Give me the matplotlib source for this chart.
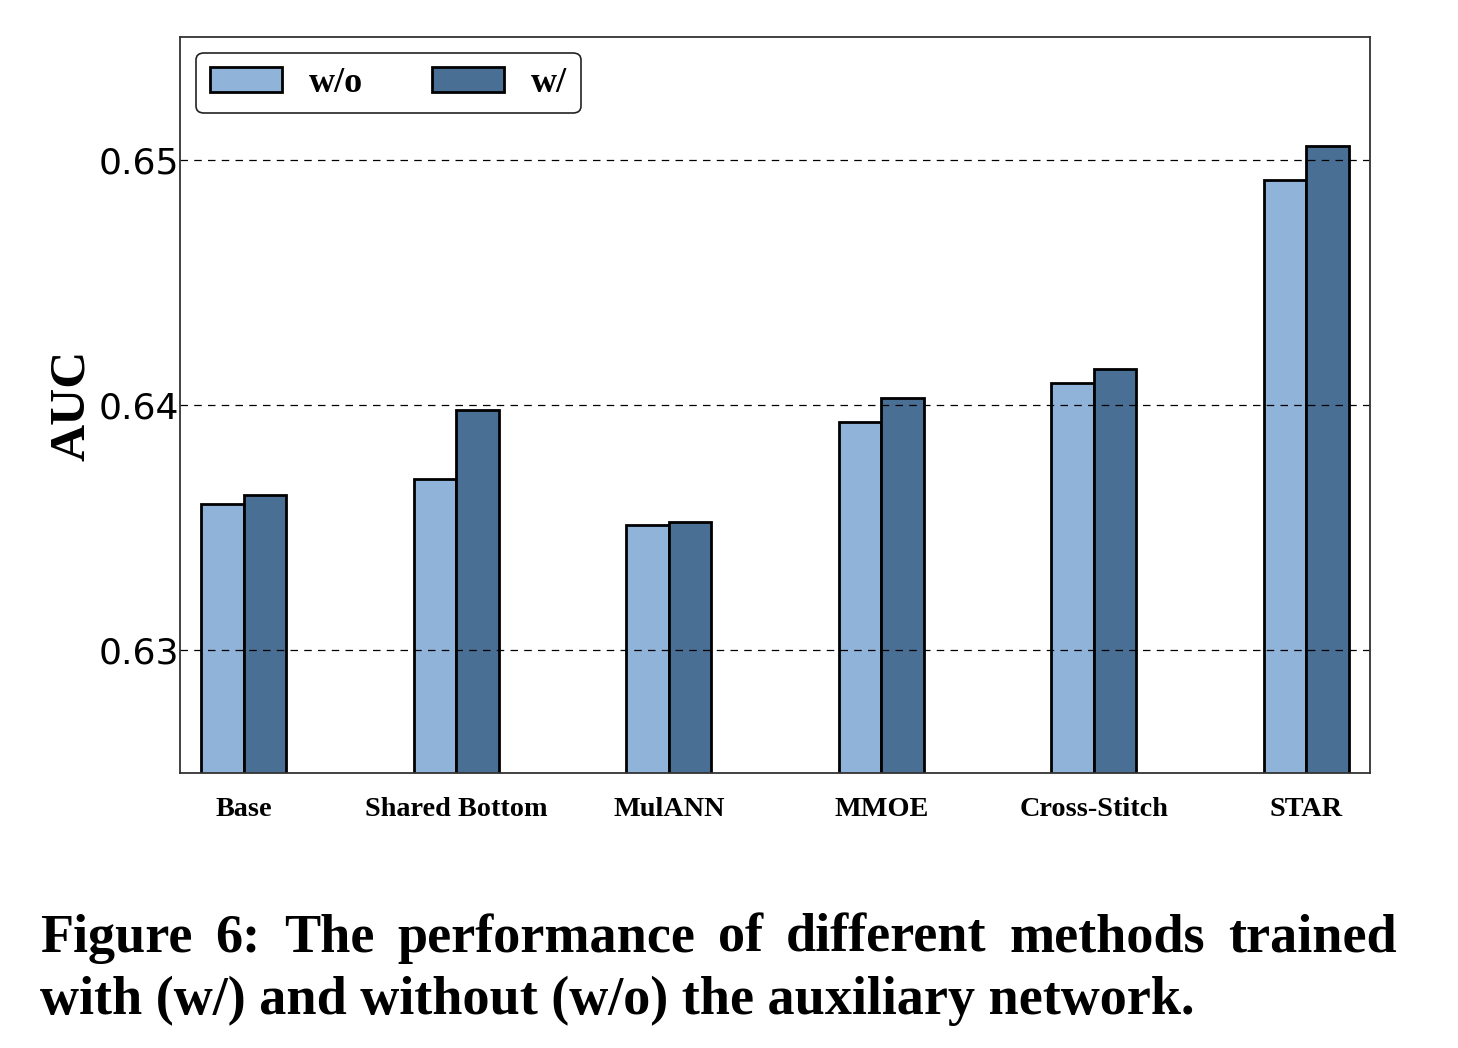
import matplotlib
matplotlib.use("Agg")
import matplotlib.pyplot as plt
import numpy as np

categories = ["Base", "Shared Bottom", "MulANN", "MMOE", "Cross-Stitch", "STAR"]
wo_values = [0.63595, 0.63697, 0.63509, 0.63929, 0.64088, 0.64919]
w_values = [0.63635, 0.63978, 0.63525, 0.64027, 0.64145, 0.65057]
series_labels = ["w/o", "w/"]
yticks = [0.63, 0.64, 0.65]
ytick_labels = ["0.63", "0.64", "0.65"]
caption_lines = [
    "Figure 6: The performance of different methods trained",
    "with (w/) and without (w/o) the auxiliary network.",
]

light = "#8fb3d9"
dark = "#4a6f95"

fig = plt.figure(figsize=(14.58, 10.48), dpi=100)
ax = fig.add_axes([0.1235, 0.2624, 0.8161, 0.7023])

x = np.arange(len(categories))
bw = 0.2
ax.bar(x - bw / 2, wo_values, bw, color=light, edgecolor="black", linewidth=2, label=series_labels[0], zorder=2)
ax.bar(x + bw / 2, w_values, bw, color=dark, edgecolor="black", linewidth=2, label=series_labels[1], zorder=2)

ax.set_xlim(-0.3, len(categories) - 0.7)
ax.set_ylim(0.625, 0.655)
ax.set_yticks(yticks)
ax.set_yticklabels(ytick_labels, fontsize=26, family="DejaVu Sans")
ax.set_xticks(x)
ax.set_xticklabels(categories, fontsize=20.3, family="Liberation Serif", fontweight="bold")
ax.tick_params(axis="y", length=0, pad=1)
ax.tick_params(axis="x", length=0, pad=17)
ax.set_axisbelow(False)
ax.yaxis.grid(True, linestyle=(0, (6, 5)), color="black", linewidth=0.9, zorder=3)
for s in ax.spines.values():
    s.set_color("#333333")
    s.set_linewidth(1.3)
    s.set_zorder(4)

ax.set_ylabel("AUC", fontsize=37, family="Liberation Serif", fontweight="bold", labelpad=2)

leg = ax.legend(loc="upper left", ncol=2, frameon=True, fancybox=True,
                prop={"family": "Liberation Serif", "weight": "bold", "size": 26},
                handlelength=2.0, handleheight=0.7, handletextpad=0.75,
                columnspacing=1.9, borderaxespad=0.45, borderpad=0.37)
leg.get_frame().set_edgecolor("#222222")
leg.get_frame().set_linewidth(1.2)
leg.get_frame().set_alpha(1)
leg.set_zorder(5)

# justified caption
fig.canvas.draw()
renderer = fig.canvas.get_renderer()
W = fig.bbox.width
x_left, x_right = 40 / W, 1397 / W
ys = [1 - 952 / 1048, 1 - 1014 / 1048]
cap_kw = dict(fontsize=39, family="Liberation Serif", fontweight="bold", va="baseline", ha="left")
for li, line in enumerate(caption_lines):
    if li == 0:
        words = line.split(" ")
        ts = [fig.text(0, ys[li], w_, **cap_kw) for w_ in words]
        widths = [t.get_window_extent(renderer).width / W for t in ts]
        gap = (x_right - x_left - sum(widths)) / (len(words) - 1)
        pos = x_left
        for t, wd in zip(ts, widths):
            t.set_x(pos)
            pos += wd + gap
    else:
        fig.text(x_left, ys[li], line, **cap_kw)

fig.savefig("out.png", dpi=100)
